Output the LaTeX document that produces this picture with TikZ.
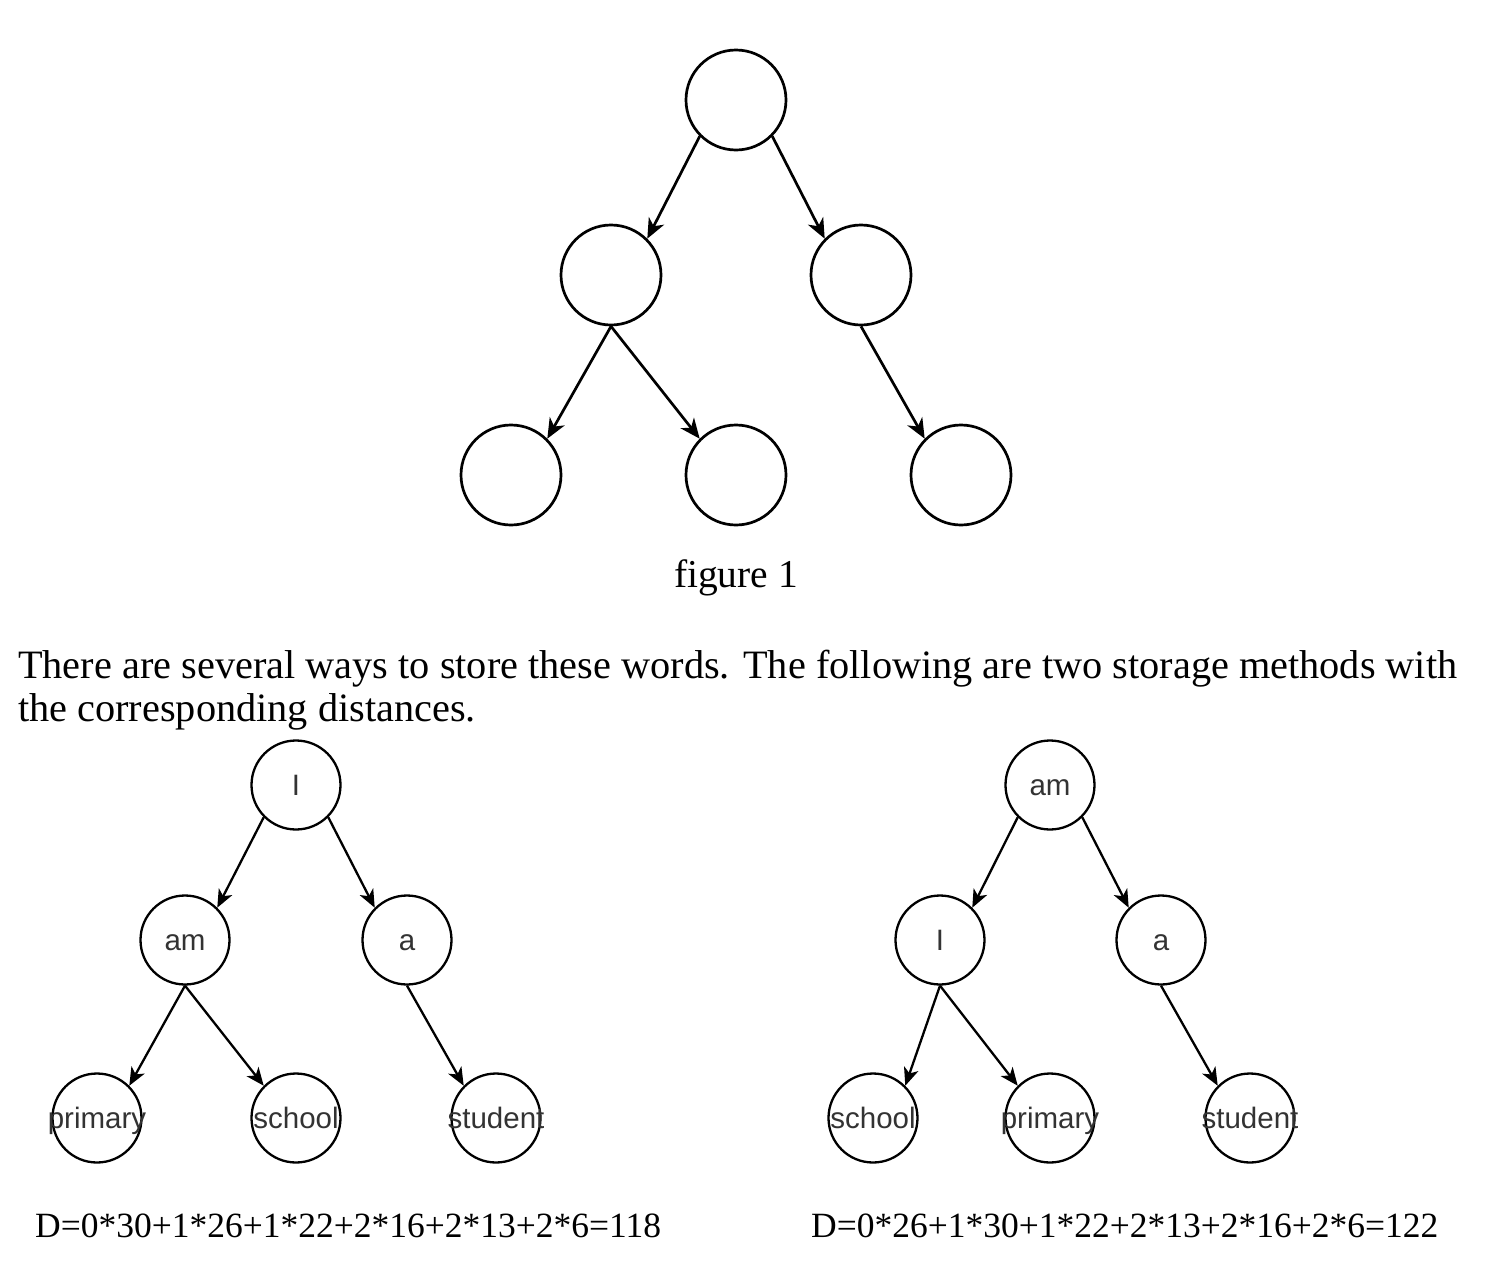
\documentclass[tikz,border=0pt]{standalone}
\usepackage{fontspec}
\setmainfont{Liberation Serif}
\newfontfamily\labelfont{Liberation Sans}
\usetikzlibrary{arrows.meta}
\definecolor{labelgray}{HTML}{333333}
\newcommand{\lbl}[1]{\makebox[0pt]{#1}}
\begin{document}
\begin{tikzpicture}[x=1pt,y=-1pt,
  bigc/.style={circle,draw,line width=2.7pt,minimum size=100pt,inner sep=0pt},
  smallc/.style={circle,draw,line width=2.3pt,minimum size=89pt,inner sep=0pt,
     text height=24pt,text depth=3pt,
     font=\labelfont\fontsize{29.5}{31}\selectfont,text=labelgray},
  bigedge/.style={line width=2.7pt,-{Stealth[length=20pt,width=17pt,inset=6pt]}},
  smalledge/.style={line width=2.3pt,-{Stealth[length=18pt,width=15pt,inset=5pt]}},
  serif/.style={inner sep=0pt,font=\fontsize{40.3}{44}\selectfont}]
\useasboundingbox (0,0) rectangle (1500,1264);
% figure 1 tree
\node[bigc] (r) at (736,100) {};
\node[bigc] (l) at (611,275) {};
\node[bigc] (rr) at (861,275) {};
\node[bigc] (ll) at (511,475) {};
\node[bigc] (lm) at (736,475) {};
\node[bigc] (rb) at (961,475) {};
\draw[bigedge] (r.225) -- (l.45);
\draw[bigedge] (r.315) -- (rr.135);
\draw[bigedge] (l.south) -- (ll.45);
\draw[bigedge] (l.south) -- (lm.135);
\draw[bigedge] (rr.south) -- (rb.135);
\node[serif,anchor=base,font=\fontsize{39.5}{42}\selectfont] (cap) at (736,587) {figure 1};
\node[serif,anchor=base west] (p1) at (18,678) {There are several ways to store these words. The following are two storage methods with};
\node[serif,anchor=base west] (p2) at (18,721) {the corresponding distances.};
% left tree
\node[smallc] (aI) at (296,785) {\lbl{I}};
\node[smallc] (aam) at (185,940) {\lbl{am}};
\node[smallc] (aa) at (407,940) {\lbl{a}};
\node[smallc] (ap) at (97,1118) {\lbl{primary}};
\node[smallc] (as) at (296,1118) {\lbl{school}};
\node[smallc] (ast) at (496,1118) {\lbl{student}};
\draw[smalledge] (aI.225) -- (aam.45);
\draw[smalledge] (aI.315) -- (aa.135);
\draw[smalledge] (aam.south) -- (ap.45);
\draw[smalledge] (aam.south) -- (as.135);
\draw[smalledge] (aa.south) -- (ast.135);
% right tree
\node[smallc] (bam) at (1050,785) {\lbl{am}};
\node[smallc] (bI) at (940,940) {\lbl{I}};
\node[smallc] (ba) at (1161,940) {\lbl{a}};
\node[smallc] (bs) at (873,1118) {\lbl{school}};
\node[smallc] (bp) at (1050,1118) {\lbl{primary}};
\node[smallc] (bst) at (1250,1118) {\lbl{student}};
\draw[smalledge] (bam.225) -- (bI.45);
\draw[smalledge] (bam.315) -- (ba.135);
\draw[smalledge] (bI.south) -- (bs.45);
\draw[smalledge] (bI.south) -- (bp.135);
\draw[smalledge] (ba.south) -- (bst.135);
% formulas
\node[serif,anchor=base west,font=\fontsize{35.5}{38}\selectfont] (d1) at (35,1237) {D=0*30+1*26+1*22+2*16+2*13+2*6=118};
\node[serif,anchor=base west,font=\fontsize{35.5}{38}\selectfont] (d2) at (811,1237) {D=0*26+1*30+1*22+2*13+2*16+2*6=122};
\end{tikzpicture}
\end{document}
